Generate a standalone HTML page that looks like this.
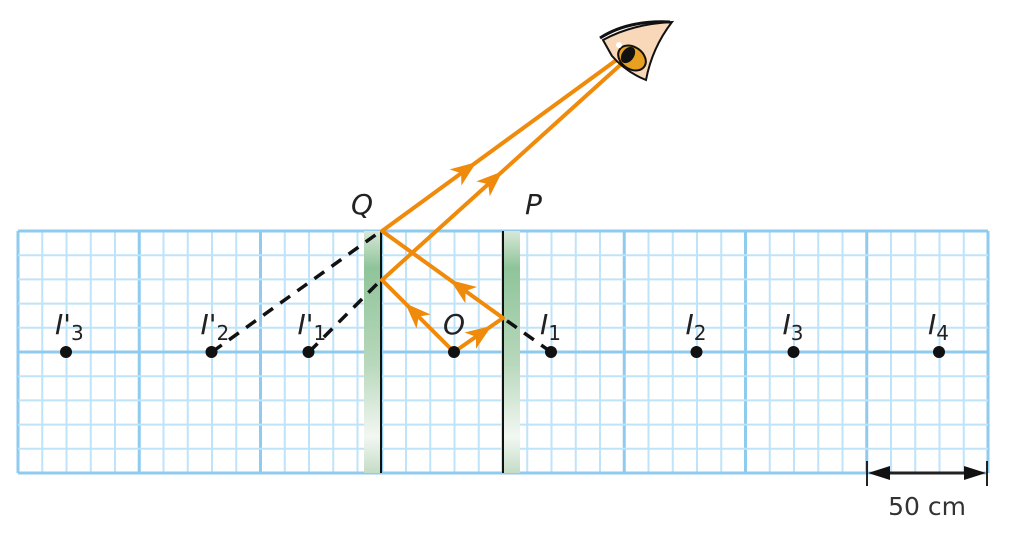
<!DOCTYPE html>
<html><head><meta charset="utf-8"><style>
html,body{margin:0;padding:0;background:#fff;}
svg{display:block;font-family:"DejaVu Sans","Liberation Sans",sans-serif;}
</style></head><body>
<svg id="s" width="1018" height="534" viewBox="0 0 1018 534">
<defs>
<linearGradient id="gm" x1="0" y1="0" x2="0" y2="1">
<stop offset="0" stop-color="#d8e8d8"/><stop offset="0.15" stop-color="#8fc49a"/><stop offset="0.55" stop-color="#b8d8bc"/><stop offset="0.85" stop-color="#f2f7f2"/><stop offset="1" stop-color="#c4dcc6"/>
</linearGradient>
</defs>
<g id="grid"></g>
<rect x="364" y="231" width="16" height="242" fill="url(#gm)"/>
<rect x="504" y="231" width="16" height="242" fill="url(#gm)"/>
<line x1="381" y1="231" x2="381" y2="473" stroke="#111" stroke-width="2"/>
<line x1="503" y1="231" x2="503" y2="473" stroke="#111" stroke-width="2"/>
<g stroke="#111" stroke-width="3.5" stroke-dasharray="12,9" fill="none">
<line x1="551" y1="352" x2="503" y2="318"/>
<line x1="309" y1="352" x2="381" y2="280"/>
<line x1="212" y1="352" x2="381" y2="231"/>
</g>
<g stroke="#f08a0a" stroke-width="4" fill="none" stroke-linejoin="round">
<polyline points="454,352 503,318 382,231 622,56"/>
<polyline points="454,352 382,280 628,58"/>
</g>
<g id="arrows" fill="#f08a0a"></g>
<g id="pts"></g>
<g font-style="italic" font-size="28" fill="#222">
<text x="351" y="214">Q</text>
<text x="525" y="214">P</text>
</g>
<g>
<path d="M603,40 Q632,24 672,22 Q652,48 646,80 Q626,72 612,56 Z" fill="#f8d8b8" stroke="#111" stroke-width="2"/>
<ellipse cx="632" cy="58" rx="15" ry="11" transform="rotate(35 632 58)" fill="#e8a020" stroke="#111" stroke-width="2"/>
<ellipse cx="628" cy="55" rx="6" ry="9" transform="rotate(35 628 55)" fill="#111"/>
<circle cx="619" cy="45" r="3" fill="#fff"/>
<path d="M600,38 Q628,20 670,22" fill="none" stroke="#111" stroke-width="3"/>
</g>
<g>
<line x1="867" y1="461" x2="867" y2="486" stroke="#222" stroke-width="2"/>
<line x1="987" y1="461" x2="987" y2="486" stroke="#222" stroke-width="2"/>
<line x1="880" y1="473" x2="974" y2="473" stroke="#222" stroke-width="3"/>
<polygon points="868,473 890,466 890,480" fill="#111"/>
<polygon points="986,473 964,466 964,480" fill="#111"/>
<text x="927" y="515" font-size="25" text-anchor="middle" fill="#333">50 cm</text>
</g>
</svg>
<script>
const pointNames=["I'3","I'2","I'1","O","I1","I2","I3","I4"];
const pointX=[-3.2,-2,-1.2,0,0.8,2,2.8,4];
const arrowT=[[454,352,503,318,0.55],[503,318,382,231,0.35],[454,352,382,280,0.55],[382,231,622,56,0.35],[382,280,628,58,0.45]];
const ns="http://www.w3.org/2000/svg";
const X0=18,X1=988,Y0=231,Y1=473,cell=(X1-X0)/40;
const ox=454,unit=121.25; // 1 unit = 50 cm
const sx=v=>ox+v*unit;
const g=document.getElementById('grid');
function ln(x1,y1,x2,y2,c,w,p){const l=document.createElementNS(ns,'line');l.setAttribute('x1',x1);l.setAttribute('y1',y1);l.setAttribute('x2',x2);l.setAttribute('y2',y2);l.setAttribute('stroke',c);l.setAttribute('stroke-width',w);p.appendChild(l);return l;}
for(let i=0;i<=40;i++){const x=X0+i*cell;const maj=i%5==0;
const l=ln(x,Y0,x,Y1,maj?'#8fcbee':'#bfe3f8',maj?3:2,g);

}
for(let j=0;j<=10;j++){const y=Y0+j*(Y1-Y0)/10;const maj=j%5==0;
const l=ln(X0,y,X1,y,maj?'#8fcbee':'#bfe3f8',maj?3:2,g);

}
const P=document.getElementById('pts');
pointNames.forEach((n,i)=>{const x=sx(pointX[i]),y=352;
const c=document.createElementNS(ns,'circle');c.setAttribute('cx',x);c.setAttribute('cy',y);c.setAttribute('r',6);c.setAttribute('fill','#111');


P.appendChild(c);
const t=document.createElementNS(ns,'text');t.setAttribute('x',x-11);t.setAttribute('y',y-18);t.setAttribute('font-size','28');t.setAttribute('font-style','italic');t.setAttribute('fill','#222');
const base=n.replace(/[0-9]/g,''),sub=n.replace(/[^0-9]/g,'');
t.textContent=base;
if(sub){const s=document.createElementNS(ns,'tspan');s.setAttribute('font-size','20');s.setAttribute('font-style','normal');s.setAttribute('dy','6');s.textContent=sub;t.appendChild(s);}


P.appendChild(t);});
const A=document.getElementById('arrows');
arrowT.forEach(a=>{const [x1,y1,x2,y2,t]=a;const x=x1+(x2-x1)*t,y=y1+(y2-y1)*t;const ang=Math.atan2(y2-y1,x2-x1)*180/Math.PI;
const p=document.createElementNS(ns,'polygon');p.setAttribute('points','13,0 -13,-10 -6,0 -13,10');p.setAttribute('transform','translate('+x+','+y+') rotate('+ang+')');


A.appendChild(p);});
</script>
</body></html>
